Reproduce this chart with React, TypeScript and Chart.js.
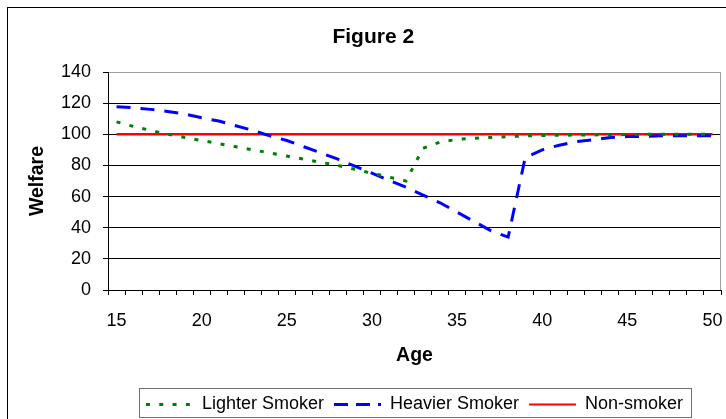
import React, { useEffect, useRef } from 'react';
import { Chart, registerables } from 'chart.js';

Chart.register(...registerables);

// ---- data ----
const ages = [15, 16, 17, 18, 19, 20, 21, 22, 23, 24, 25, 26, 27, 28, 29, 30, 31, 32, 33, 34, 35, 36, 37, 38, 39, 40, 41, 42, 43, 44, 45, 46, 47, 48, 49, 50];
const lighterSmoker = [108, 105, 102.5, 100, 98, 96, 94, 92, 90, 88, 86, 84, 82, 80, 77.5, 75, 72.5, 70, 91, 95, 96.7, 97.5, 98, 98.5, 99, 99.2, 99.4, 99.5, 99.6, 99.7, 99.8, 100, 100, 100, 100, 100];
const heavierSmoker = [117.7, 117, 116, 114.7, 113, 110.6, 108.5, 105.5, 102.5, 99, 96, 92, 88, 84, 79.5, 75, 70.5, 66, 61, 56, 50, 44, 38, 34, 85, 90, 93, 95.3, 96.5, 98, 98.5, 98.7, 99, 99, 99, 99];
const nonSmoker = [100, 100, 100, 100, 100, 100, 100, 100, 100, 100, 100, 100, 100, 100, 100, 100, 100, 100, 100, 100, 100, 100, 100, 100, 100, 100, 100, 100, 100, 100, 100, 100, 100, 100, 100, 100];
const seriesNames = ['Lighter Smoker', 'Heavier Smoker', 'Non-smoker'];
const yMin = 0;
const yMax = 140;
const yStep = 20;
const xLabelEvery = 5;

const FONT = "'Liberation Sans', Arial, sans-serif";

const decorations = {
  id: 'decorations',
  afterDraw(chart: any) {
    const { ctx, chartArea } = chart;
    ctx.save();
    // outer frame
    ctx.strokeStyle = '#000';
    ctx.lineWidth = 1;
    ctx.setLineDash([]);
    ctx.strokeRect(7.5, 7.5, chart.width + 10, chart.height + 10);
    // plot area right border
    ctx.strokeStyle = '#a0a0a0';
    ctx.beginPath();
    const rx = Math.round(chartArea.right) - 0.5;
    ctx.moveTo(rx, chartArea.top);
    ctx.lineTo(rx, chartArea.bottom);
    ctx.stroke();
    // legend border
    const lg = chart.legend;
    if (lg && lg.legendHitBoxes && lg.legendHitBoxes.length) {
      const hb = lg.legendHitBoxes;
      let l = Infinity, r = -Infinity, t = Infinity;
      for (const b of hb) {
        l = Math.min(l, b.left);
        r = Math.max(r, b.left + b.width);
        t = Math.min(t, b.top);
      }
      const x0 = Math.round(l - 7) + 0.5;
      const x1 = Math.round(r + 8) + 0.5;
      const y0 = Math.round(t - 7.4) + 0.5;
      const y1 = Math.round(t + 21.6) + 0.5;
      ctx.strokeStyle = '#707070';
      ctx.strokeRect(x0, y0, x1 - x0, y1 - y0);
    }
    ctx.restore();
  },
};

// legend sample dash patterns (sample is shorter than a full plot dash cycle)
const legendDashes: number[][] = [[4, 9.3], [14, 8], []];

export default function App() {
  const ref = useRef<HTMLCanvasElement>(null);

  useEffect(() => {
    document.body.style.margin = '0';
    const canvas = ref.current;
    if (!canvas) return;
    const baseGenerate = (Chart as any).defaults.plugins.legend.labels.generateLabels;
    const chart = new Chart(canvas, {
      type: 'line',
      data: {
        labels: ages.map(String),
        datasets: [
          {
            label: seriesNames[0],
            data: lighterSmoker,
            borderColor: '#008000',
            backgroundColor: '#008000',
            borderWidth: 3,
            borderDash: [4, 9.3],
            pointRadius: 0,
            tension: 0,
            fill: false,
          },
          {
            label: seriesNames[1],
            data: heavierSmoker,
            borderColor: '#0000ff',
            backgroundColor: '#0000ff',
            borderWidth: 3,
            borderDash: [14, 10],
            pointRadius: 0,
            tension: 0,
            fill: false,
          },
          {
            label: seriesNames[2],
            data: nonSmoker,
            borderColor: '#ff0000',
            backgroundColor: '#ff0000',
            borderWidth: 2.5,
            pointRadius: 0,
            tension: 0,
            fill: false,
          },
        ],
      },
      options: {
        responsive: false,
        animation: false,
        layout: { padding: { left: 25.6, right: 5, top: 0, bottom: -4.4 } },
        plugins: {
          title: {
            display: true,
            text: 'Figure 2',
            color: '#000',
            font: { family: FONT, size: 21, weight: 'bold', lineHeight: 1.2 },
            padding: { top: 24.2, bottom: 22.6 },
          },
          legend: {
            display: true,
            position: 'bottom',
            fullSize: false,
            labels: {
              usePointStyle: true,
              pointStyle: 'line',
              pointStyleWidth: 47,
              boxHeight: 18,
              padding: 10,
              color: '#000',
              font: { family: FONT, size: 18 },
              generateLabels: (ch: any) => {
                const items = baseGenerate(ch);
                items.forEach((it: any) => {
                  const ds = ch.data.datasets[it.datasetIndex];
                  it.lineDash = legendDashes[it.datasetIndex] || [];
                  it.lineDashOffset = 0;
                  it.lineWidth = it.datasetIndex === 2 ? 2 : ds.borderWidth;
                  it.strokeStyle = ds.borderColor;
                  it.pointStyle = 'line';
                });
                return items;
              },
            },
          },
          tooltip: { enabled: false },
        },
        scales: {
          x: {
            type: 'category',
            offset: true,
            grid: {
              offset: true,
              drawOnChartArea: false,
              drawTicks: true,
              tickLength: 5,
              color: '#000',
            },
            border: { display: true, color: '#000', width: 1 },
            ticks: {
              autoSkip: false,
              maxRotation: 0,
              minRotation: 0,
              padding: 0,
              color: '#000',
              font: { family: FONT, size: 18, lineHeight: '52.6px' },
              callback: (_v: any, i: number) => (ages[i] % xLabelEvery === 0 ? String(ages[i]) : ''),
            },
            title: {
              display: true,
              text: 'Age',
              color: '#000',
              font: { family: FONT, size: 19.5, weight: 'bold', lineHeight: 1.2 },
              padding: { top: -3.3, bottom: 17.7 },
            },
          },
          y: {
            min: yMin,
            max: yMax,
            grid: {
              drawTicks: true,
              tickLength: 5,
              color: (c: any) => (c.tick && c.tick.value === yMax ? '#a0a0a0' : '#000'),
              tickColor: '#000',
            },
            border: { display: true, color: '#000', width: 1 },
            ticks: {
              stepSize: yStep,
              padding: 12,
              color: '#000',
              font: { family: FONT, size: 18 },
            },
            title: {
              display: true,
              text: 'Welfare',
              color: '#000',
              font: { family: FONT, size: 19.5, weight: 'bold', lineHeight: 1.2 },
              padding: { top: 0, bottom: 0 },
            },
          },
        },
      },
      plugins: [decorations],
    });
    return () => chart.destroy();
  }, []);

  return (
    <div style={{ width: 726, height: 419 }}>
      <canvas ref={ref} width={726} height={419} style={{ display: 'block' }} />
    </div>
  );
}
